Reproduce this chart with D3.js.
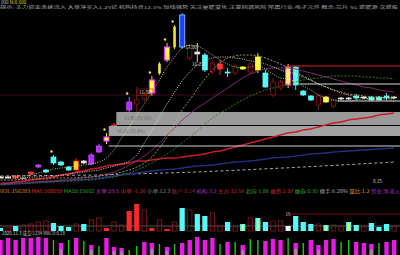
<!DOCTYPE html>
<html><head><meta charset="utf-8">
<script src="https://cdn.jsdelivr.net/npm/d3@7"></script>
<style>html,body{margin:0;padding:0;background:#000;overflow:hidden}svg{display:block}text{font-family:"Noto Sans CJK SC","Noto Sans",sans-serif}</style>
</head><body><svg id="c" width="400" height="255"></svg>
<script>
// ---------- data ----------
const openP  = [4.8,4.8,4.7,4.7,5.1,5.8,5.5,6.8,6.3,5.8,5.5,6.2,6.1,7.3,8.4,9.7,10.5,11.5,12.1,12.6,13.2,15.2,16.5,17.8,17.8,16.7,17.3,17.0,15.3,15.6,15.3,15.2,15.6,15.3,15.5,15.2,13.0,13.7,14.0,15.8,13.4,12.9,12.0,12.3,11.9,12.6,12.7,12.9,12.7,12.8,12.8,12.9,12.8];
const closeP = [4.8,4.8,4.9,4.7,5.3,6.0,5.3,6.2,6.0,5.5,6.4,6.4,7.0,7.9,8.8,10.0,11.0,12.3,12.5,13.0,14.5,16.1,17.8,19.8,21.0,17.7,17.1,15.5,16.2,16.1,15.2,15.9,15.8,16.1,16.8,13.8,14.3,14.3,15.8,14.0,13.0,12.5,12.9,12.8,12.5,12.7,12.6,12.7,12.8,12.5,12.5,12.7,12.7];
const highP  = [4.9,4.85,5.0,4.8,5.4,6.1,5.6,7.0,6.4,5.9,6.7,6.5,7.2,8.1,9.2,10.2,11.2,12.8,13.8,13.3,14.9,16.3,18.2,20.0,21.2,18.0,18.2,17.2,16.5,16.5,15.7,16.1,15.9,16.3,17.2,15.5,14.7,14.5,16.1,15.9,13.5,13.0,13.1,12.9,12.6,12.8,12.8,13.1,12.9,12.9,12.9,13.2,12.9];
const lowP   = [4.7,4.75,4.6,4.65,5.0,5.7,5.2,6.0,5.9,5.4,5.3,6.1,6.0,7.2,8.1,9.5,10.3,11.2,11.2,12.3,12.9,15.0,16.3,17.6,17.6,16.5,16.3,15.3,15.1,15.0,14.8,15.0,15.5,15.1,15.2,13.7,12.8,13.5,13.7,13.5,12.9,12.4,11.5,12.2,11.7,12.5,12.5,12.5,12.6,12.4,12.4,12.5,12.6];
const candleKind = ['w','w','r','g','r','p','c','c','c','c','yr','w','p','p','ym','r','r','p','d','d','ym','yt','ym','yt','b','d','w','c','d','r','c','d','y','d','y','c','d','d','ym','c','c','c','d','y','d','w','w','c','w','c','c','c','w'];

const ma5   = [4.8,4.8,4.9,4.9,5.0,5.2,5.4,5.6,5.7,5.8,5.9,6.0,6.1,6.3,6.7,7.5,8.7,9.8,11.0,12.1,13.3,14.5,15.8,16.8,17.7,18.0,17.9,17.5,17.0,16.5,16.1,15.8,15.7,15.8,15.9,15.6,15.1,14.7,14.6,14.3,13.9,13.5,13.0,12.7,12.5,12.4,12.4,12.5,12.6,12.6,12.7,12.7,12.7];
const ma10  = [4.7,4.7,4.7,4.7,4.8,4.8,4.9,4.9,5.0,5.1,5.2,5.3,5.4,5.5,5.7,5.9,6.1,6.4,7.0,8.2,9.5,10.8,12.1,13.3,14.4,15.3,16.0,16.4,16.7,16.8,16.8,16.7,16.6,16.4,16.3,16.1,15.8,15.5,15.3,15.1,14.8,14.5,14.1,13.8,13.5,13.2,13.0,12.8,12.7,12.6,12.6,12.5,12.5];
const ma20  = [4.5,4.5,4.5,4.6,4.6,4.6,4.6,4.7,4.7,4.7,4.7,4.8,4.8,4.9,5.0,5.1,5.3,5.5,5.8,6.2,6.8,7.7,8.8,10.1,11.5,12.5,13.6,14.6,15.5,16.2,16.7,16.9,17.0,17.0,16.9,16.7,16.4,16.1,15.7,15.3,14.9,14.5,14.1,13.8,13.5,13.3,13.1,13.0,12.9,12.8,12.8,12.7,12.7];
const ma30  = [4.2,4.2,4.2,4.3,4.3,4.3,4.4,4.4,4.5,4.5,4.6,4.7,4.8,4.9,5.1,5.3,5.6,6.0,6.4,6.9,7.5,8.2,9.0,9.7,10.5,11.1,11.7,12.2,12.7,13.2,13.7,14.2,14.7,15.1,15.4,15.6,15.7,15.7,15.7,15.6,15.4,15.2,15.0,14.8,14.6,14.4,14.2,14.0,13.8,13.7,13.5,13.4,13.3];
const ma60  = [4.1,4.1,4.2,4.2,4.2,4.3,4.3,4.3,4.4,4.4,4.4,4.5,4.5,4.6,4.7,4.8,5.0,5.2,5.5,5.8,6.2,6.6,7.1,7.6,8.2,8.8,9.4,10.1,10.7,11.2,11.6,12.1,12.5,12.9,13.2,13.5,13.7,13.9,14.1,14.3,14.5,14.6,14.7,14.8,14.9,14.9,14.9,14.9,14.8,14.8,14.7,14.7,14.6];
const ma120 = [4.1,4.2,4.3,4.4,4.5,4.6,4.7,4.8,5.0,5.1,5.3,5.4,5.6,5.7,5.9,6.0,6.1,6.2,6.4,6.4,6.5,6.6,6.7,6.7,6.8,6.9,7.0,7.1,7.3,7.4,7.6,7.8,8.0,8.2,8.4,8.6,8.8,9.0,9.2,9.3,9.5,9.6,9.8,10.0,10.2,10.3,10.5,10.6,10.7,10.8,11.0,11.1,11.2];
const ma250 = [4.0,4.05,4.1,4.15,4.2,4.25,4.3,4.35,4.4,4.45,4.5,4.55,4.6,4.7,4.8,4.9,5.0,5.1,5.2,5.3,5.4,5.5,5.55,5.6,5.7,5.8,5.9,5.95,6.0,6.1,6.2,6.3,6.35,6.4,6.5,6.6,6.7,6.75,6.8,6.9,7.0,7.1,7.15,7.2,7.3,7.35,7.4,7.45,7.5,7.55,7.6,7.65,7.7];
const maYear = [4.9,4.91,4.92,4.92,4.93,4.94,4.95,4.95,4.96,4.97,4.98,4.98,4.99,5.0,5.02,5.05,5.07,5.09,5.12,5.14,5.16,5.19,5.21,5.23,5.25,5.28,5.3,5.33,5.37,5.4,5.44,5.47,5.51,5.54,5.58,5.62,5.65,5.69,5.72,5.76,5.8,5.84,5.88,5.92,5.96,6.0,6.04,6.08,6.13,6.17,6.21,6.25,6.3];

const markerIdx = [7,14,17,20,22,23];
const levelPrice = [15.9,14.1,12.4,7.9,13.0];
const levelStart = [38,39.5,44.5,14.3,0];
const bandTop = [11.3,9.9];
const bandBottom = [10.0,8.9];
const bandStart = [15.3,14.3];
const bandLabels = ['11.80 (32.6%)','10.20 (18.4%)'];

const volume = [3000,3000,5000,6000,7000,9000,10000,8000,5000,4000,7000,7000,11000,13000,3000,9000,6000,20000,27000,21000,3000,11000,2000,9000,23000,21000,17000,15000,18000,5000,9000,4000,7000,13000,13000,9000,10000,10000,5000,15000,9000,7000,7000,6000,6000,5000,9000,6000,4000,8000,4000,7000,5000];
const volKind = ['c','h','c','h','h','h','h','c','c','c','h','c','h','h','r','h','h','r','r','h','r','h','r','h','c','h','c','c','h','h','c','h','y','h','y','c','h','h','w','c','c','c','h','y','h','h','y','c','h','c','c','c','h'];
const volRef = 5000;
const volLevel = 17000, volLevelStart = 37.8;

const macdVal  = [15,17,15,17,17,18,17,15,12,15,17,14,10,9,17,8,7,5,9,13,12,11,8,11,12,15,18,15,17,11,13,13,10,16,15,14,16,15,17,12,12,15,10,15,16,13,15,13,12,11,12,13,15];
const macdKind = 'mmmmmmmgmgmgmgmmmggmmgmgmmmmmgmgmggmmmgmgmmmmggmmmgmm'.split('');
const macdShade = [8,12,15,16,20,22,32,39,42,49];

const priceLabels = [
  {i:18.3, p:13.1, t:'11.80'},
  {i:24.4, p:17.6, t:'17.86'},
  {i:25.3, p:15.9, t:'16.23'},
  {i:49.2, p:4.2,  t:'8.15'}
];
const headerCode = '000', headerPrice = 'N/0.000';
const infoLine = '提示: 主力资金连续流入 大单净买入1.25亿 机构持仓12.3% 短线强势 关注量能变化 注意回调风险 所属行业:电子元件 概念:芯片 5G 新能源 次新股';
const volTexts = [
  ['VOL:156283','#e08a20'],['MA5:168659','#e03030'],['MA10:15602','#30b030'],['大单:23.5','#c838c8'],
  ['中单:-5.26','#c83030'],['小单:12.3','#909090'],['散户:8.14','#a02828'],['机构:3.2','#a030c0'],
  ['主力:12.56','#d03030'],['北向:1.86','#30b030'],['融资:2.07','#d03030'],['融券:0.35','#30b030'],
  ['换手:6.28%','#b0b0b0'],['量比:1.2','#e0a020'],['资金:净流入','#a030c0']
];
const macdHeader = ['2020.11.3','成交:1234','MACD:0.28'];

// ---------- drawing ----------
const svg = d3.select('#c');
svg.append('rect').attr('width',400).attr('height',255).attr('fill','#000');
const defs = svg.append('defs');
defs.append('clipPath').attr('id','cm').append('rect').attr('x',0).attr('y',11).attr('width',400).attr('height',176);

const x = d3.scaleLinear().domain([0,52]).range([0.5,394.1]);
const y = d3.scaleLinear().domain([4.0,21.3]).range([185,12]);

// header
const hdr = svg.append('text').attr('x',1).attr('y',4.2).attr('font-size',4.6);
hdr.append('tspan').attr('fill','#bcbcbc').text(headerCode+' ');
hdr.append('tspan').attr('fill','#d8d030').text(headerPrice);
svg.append('text').attr('x',0).attr('y',8.8).attr('font-size',4.1).attr('fill','#a8a8a8')
  .attr('textLength',398).attr('lengthAdjust','spacingAndGlyphs').text(infoLine);

const main = svg.append('g').attr('clip-path','url(#cm)');

// maroon full-width level
main.append('line').attr('x1',0).attr('x2',400).attr('y1',y(levelPrice[4])).attr('y2',y(levelPrice[4]))
  .attr('stroke','#4a1018').attr('stroke-width',0.8);

// candles
const kindStyle = {
  w:{fill:'#e6e6e6',stroke:'#e6e6e6',wick:'#e6e6e6',w:5},
  g:{fill:'#8a8a8a',stroke:'#8a8a8a',wick:'#8a8a8a',w:5},
  r:{fill:'#ff3434',stroke:'#ff3434',wick:'#ff3434',w:5},
  c:{fill:'#54fcfc',stroke:'#54fcfc',wick:'#54fcfc',w:5},
  p:{fill:'#b030ff',stroke:'#d050ff',wick:'#d050ff',w:5},
  yr:{fill:'#ffd020',stroke:'#ff2020',wick:'#ff2020',w:5},
  ym:{fill:'#ffff40',stroke:'#ff30ff',wick:'#ffff40',w:5},
  y:{fill:'#ffff30',stroke:'#ffff30',wick:'#ffff30',w:5},
  yt:{fill:'#f0e040',stroke:'#f0e040',wick:'#f0e040',w:1.8},
  b:{fill:'#1f3cff',stroke:'#60b0ff',wick:'#60b0ff',w:5},
  d:{fill:'#000',stroke:'#a01818',wick:'#a01818',w:4.4}
};
const cg = main.append('g');
openP.forEach((o,i)=>{
  const s = kindStyle[candleKind[i]];
  const cx = x(i);
  cg.append('line').attr('x1',cx).attr('x2',cx).attr('y1',y(highP[i])).attr('y2',y(lowP[i]))
    .attr('stroke',s.wick).attr('stroke-width',0.9);
  const top = y(Math.max(o,closeP[i])), bot = y(Math.min(o,closeP[i]));
  cg.append('rect').attr('x',cx-s.w/2).attr('y',top).attr('width',s.w).attr('height',Math.max(1,bot-top))
    .attr('fill',s.fill).attr('stroke',s.stroke).attr('stroke-width',candleKind[i]==='ym'||candleKind[i]==='b'?1.1:0.7);
});

// chip bands (drawn over candles)
const bandFill = ['#9a9a9a','#a3a3a3'];
bandTop.forEach((t,k)=>{
  main.append('rect').attr('x',x(bandStart[k])).attr('y',y(t)).attr('width',400-x(bandStart[k]))
    .attr('height',y(bandBottom[k])-y(t)).attr('fill',bandFill[k]);
  main.append('text').attr('x',x(bandStart[k])+8).attr('y',(y(t)+y(bandBottom[k]))/2+1.6)
    .attr('font-size',4.5).attr('fill','#6c6c6c').text(bandLabels[k]);
});

// moving averages
const line = d3.line().x((d,i)=>x(i)).y(d=>y(d)).curve(d3.curveMonotoneX);
const maDefs = [
  [maYear,'#bdbdbd',0.9,'3,2.5'],
  [ma250,'#23307e',1.3,null],
  [ma120,'#c81c2c',1.4,null],
  [ma60,'#2a8a2a',0.9,'2,1.5'],
  [ma30,'#8a2e70',0.9,null],
  [ma20,'#c8b868',0.8,'2,1.5'],
  [ma10,'#dcdcc8',0.8,'1.2,1.2'],
  [ma5,'#f0e8a0',0.8,'1,1.4']
];
maDefs.forEach(([arr,col,w,dash])=>{
  main.append('path').datum(arr).attr('d',line).attr('fill','none').attr('stroke',col)
    .attr('stroke-width',w).attr('stroke-dasharray',dash);
});

// horizontal levels
const levelColor = ['#e02020','#d8d8d8','#d8d8d8','#cfcfcf'];
for(let k=0;k<4;k++){
  main.append('line').attr('x1',x(levelStart[k])).attr('x2',400)
    .attr('y1',y(levelPrice[k])).attr('y2',y(levelPrice[k]))
    .attr('stroke',levelColor[k]).attr('stroke-width',1.1);
}

// markers
markerIdx.forEach(i=>{
  main.append('circle').attr('cx',x(i)-2).attr('cy',y(highP[i]+0.35)).attr('r',1.2).attr('fill','#e8e050');
});
// price labels
priceLabels.forEach(l=>{
  main.append('text').attr('x',x(l.i)).attr('y',y(l.p)).attr('font-size',4.6)
    .attr('fill','#dcdcdc').text(l.t);
});
main.append('rect').attr('x',x(priceLabels[0].i)-1).attr('y',y(priceLabels[0].p)-5)
  .attr('width',15).attr('height',6.5).attr('fill','none').attr('stroke','#a01818').attr('stroke-width',0.6);

// ---------- volume panel ----------
const vt = svg.append('text').attr('x',0).attr('y',192.5).attr('font-size',4.4);
volTexts.forEach(([t,c])=>{ vt.append('tspan').attr('fill',c).text(t+' '); });
vt.attr('textLength',400).attr('lengthAdjust','spacingAndGlyphs');

const yv = d3.scaleLinear().domain([0,34000]).range([231,197]);
svg.append('line').attr('x1',0).attr('x2',400).attr('y1',yv(volRef)).attr('y2',yv(volRef))
  .attr('stroke','#7a7a7a').attr('stroke-width',0.7);
svg.append('line').attr('x1',x(volLevelStart)).attr('x2',400).attr('y1',yv(volLevel)).attr('y2',yv(volLevel))
  .attr('stroke','#7a1010').attr('stroke-width',1);
svg.append('text').attr('x',x(volLevelStart)-1).attr('y',yv(volLevel)+2).attr('font-size',4.5).attr('fill','#e0c0c0').text('15');

const volColor = {c:'#54fcfc',r:'#ff2828',w:'#f0f0f0',y:'#54fcfc'};
volume.forEach((v,i)=>{
  const k = volKind[i], cx = x(i);
  if(k==='h'){
    svg.append('rect').attr('x',cx-2.2).attr('y',yv(v)).attr('width',4.4).attr('height',yv(0)-yv(v))
      .attr('fill','none').attr('stroke','#8e1a1a').attr('stroke-width',0.8);
  } else {
    svg.append('rect').attr('x',cx-2.6).attr('y',yv(v)).attr('width',5.2).attr('height',yv(0)-yv(v))
      .attr('fill',volColor[k]);
    if(k==='y') svg.append('rect').attr('x',cx-0.6).attr('y',yv(v)+1).attr('width',1.4).attr('height',yv(0)-yv(v)-1).attr('fill','#ffff30');
  }
});

// ---------- macd panel ----------
const mt = svg.append('text').attr('x',2).attr('y',234.5).attr('font-size',4.4);
macdHeader.forEach((t,k)=>mt.append('tspan').attr('fill',k===0?'#d8d8d8':'#c0c0c0').text(t+' '));
const yb = d3.scaleLinear().domain([0,20]).range([255,235]);
macdVal.forEach((v,i)=>{
  const cx = x(i);
  if(macdKind[i]==='m'){
    svg.append('rect').attr('x',cx-2.2).attr('y',yb(v)).attr('width',4.4).attr('height',255-yb(v)).attr('fill','#e41ce4');
    if(macdShade.includes(i)) svg.append('rect').attr('x',cx-1.4).attr('y',yb(v*0.5)).attr('width',2.8).attr('height',255-yb(v*0.5)).attr('fill','#a08aa0');
  } else {
    svg.append('rect').attr('x',cx-0.7).attr('y',yb(v)).attr('width',1.4).attr('height',255-yb(v)).attr('fill','#22c422');
  }
});
</script></body></html>
